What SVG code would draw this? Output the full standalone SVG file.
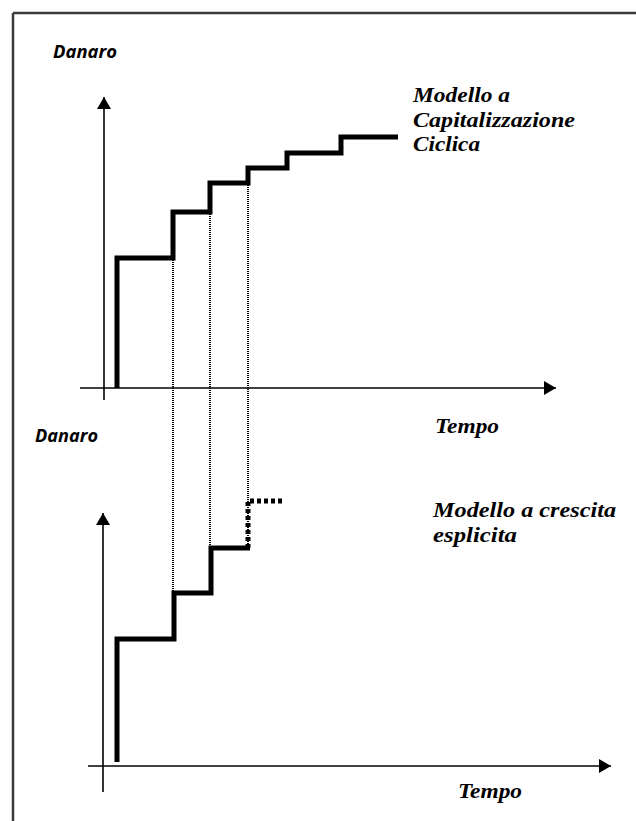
<svg xmlns="http://www.w3.org/2000/svg" width="636" height="821" viewBox="0 0 636 821">
<defs>
<style>
.frame{stroke:#3a3a3a;stroke-width:2.5;fill:none}
.axis{stroke:#000;stroke-width:1.6;fill:none}
.step{stroke:#000;stroke-width:5;fill:none;stroke-linejoin:miter;stroke-linecap:butt}
.stepdot{stroke:#000;stroke-width:5;fill:none}
.guide{stroke:#000;stroke-width:2;fill:none;stroke-dasharray:1,1;shape-rendering:crispEdges}
.lab{font-family:"Open Sans","DejaVu Sans",sans-serif;font-weight:bold;font-style:italic;font-size:18px;fill:#000}
.ttl{font-family:"Liberation Serif","Times New Roman",serif;font-weight:bold;font-style:italic;font-size:22px;fill:#000}
</style>
<marker id="arr" viewBox="0 0 12 14" refX="12" refY="7" markerWidth="12" markerHeight="14" markerUnits="userSpaceOnUse" orient="auto">
<path d="M0,0 L12,7 L0,14 Z" fill="#000"/>
</marker>
</defs>
<rect width="636" height="821" fill="#fff"/>
<g id="frame">
<line class="frame" x1="13" y1="13" x2="636" y2="13"/>
<line class="frame" x1="13" y1="13" x2="13" y2="821"/>
</g>
<g id="top-chart">
<line class="axis" x1="104" y1="400" x2="104" y2="97" marker-end="url(#arr)"/>
<line class="axis" x1="80" y1="388" x2="556" y2="388" marker-end="url(#arr)"/>
<polyline class="step" points="117,388 117,258 173,258 173,212 210,212 210,183 248,183 248,168 287,168 287,153 341,153 341,137 398,137"/>
<text class="lab" x="53" y="58" textLength="64" lengthAdjust="spacingAndGlyphs">Danaro</text>
<text class="ttl" x="413" y="102" textLength="97" lengthAdjust="spacingAndGlyphs">Modello a</text>
<text class="ttl" x="413" y="127" textLength="162" lengthAdjust="spacingAndGlyphs">Capitalizzazione</text>
<text class="ttl" x="413" y="151" textLength="67" lengthAdjust="spacingAndGlyphs">Ciclica</text>
<text class="ttl" x="435" y="433" textLength="64" lengthAdjust="spacingAndGlyphs">Tempo</text>
</g>
<g id="connectors">
<line class="guide" x1="173" y1="260" x2="173" y2="593"/>
<line class="guide" x1="210" y1="214" x2="210" y2="548"/>
<line class="guide" x1="248" y1="185" x2="248" y2="548"/>
</g>
<g id="bottom-chart">
<line class="axis" x1="103" y1="792" x2="103" y2="513" marker-end="url(#arr)"/>
<line class="axis" x1="88" y1="766" x2="611" y2="766" marker-end="url(#arr)"/>
<polyline class="step" points="117,762 117,639 174,639 174,593 211,593 211,548 250,548"/>
<polyline class="stepdot" points="248,548 248,501 284,501" stroke-dasharray="4,3"/>
<text class="lab" x="35" y="442" textLength="63" lengthAdjust="spacingAndGlyphs">Danaro</text>
<text class="ttl" x="433" y="517" textLength="183" lengthAdjust="spacingAndGlyphs">Modello a crescita</text>
<text class="ttl" x="433" y="542" textLength="84" lengthAdjust="spacingAndGlyphs">esplicita</text>
<text class="ttl" x="458" y="798" textLength="64" lengthAdjust="spacingAndGlyphs">Tempo</text>
</g>
</svg>
